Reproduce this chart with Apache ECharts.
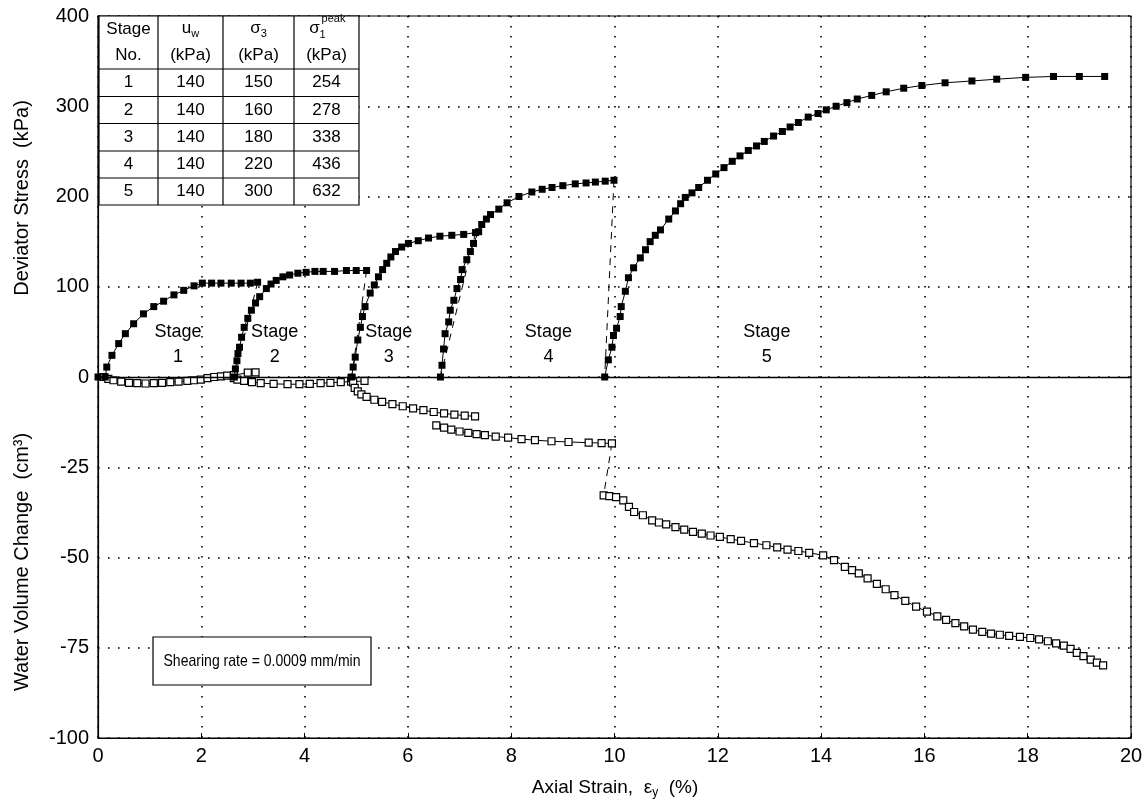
<!DOCTYPE html>
<html><head><meta charset="utf-8">
<script src="https://cdn.jsdelivr.net/npm/echarts@6/dist/echarts.min.js"></script>
<style>html,body{margin:0;padding:0;background:#fff}#c{width:1143px;height:808px}</style>
</head><body><div id="c"></div>
<script>
// ---------------- data ----------------
const xTicks = [0, 2, 4, 6, 8, 10, 12, 14, 16, 18, 20];
const stressTicks = [0, 100, 200, 300, 400];
const volumeTicks = [-25, -50, -75, -100];

// Deviator stress (kPa) vs axial strain (%)
const devStage1 = [[0,0],[0.14,0],[0.17,11],[0.27,24],[0.40,37],[0.53,48],[0.69,59],[0.88,70],[1.08,78],[1.27,84],[1.47,91],[1.66,96],[1.86,101],[2.02,104],[2.2,104],[2.38,104],[2.58,104],[2.77,104],[2.95,104],[3.09,105]];
const devStage2 = [[2.64,0],[2.66,9],[2.69,18],[2.71,26],[2.74,33],[2.78,44],[2.83,55],[2.90,65],[2.97,74],[3.05,82],[3.13,89],[3.26,98],[3.35,103],[3.45,107],[3.58,111],[3.71,113],[3.87,115],[4.03,116],[4.2,117],[4.36,117],[4.58,117],[4.81,118],[5.0,118],[5.2,118]];
const devStage3 = [[4.91,0],[4.94,11],[4.98,22],[5.03,41],[5.08,55],[5.12,67],[5.17,78],[5.27,93],[5.35,102],[5.43,111],[5.51,119],[5.59,126],[5.67,133],[5.76,139],[5.88,144],[6.01,148],[6.2,151],[6.40,154],[6.62,156],[6.85,157],[7.08,158],[7.31,160]];
const devStage4 = [[6.63,0],[6.66,13],[6.69,31],[6.72,48],[6.79,61],[6.82,74],[6.89,85],[6.95,98],[7.02,108],[7.05,119],[7.14,130],[7.21,139],[7.27,148],[7.37,161],[7.43,169],[7.52,175],[7.60,180],[7.76,186],[7.92,193],[8.15,200],[8.40,205],[8.6,208],[8.79,210],[9.0,212],[9.24,214],[9.45,215],[9.63,216],[9.82,217],[9.99,218]];
const devStage5 = [[9.81,0],[9.88,19],[9.95,33],[9.98,46],[10.04,54],[10.11,67],[10.13,78],[10.21,95],[10.27,110],[10.37,121],[10.50,132],[10.60,141],[10.69,150],[10.79,157],[10.89,163],[11.05,175],[11.18,184],[11.28,192],[11.37,199],[11.50,204],[11.63,210],[11.80,218],[11.96,225],[12.12,232],[12.28,239],[12.43,245],[12.59,251],[12.75,256],[12.90,261],[13.08,267],[13.25,272],[13.40,277],[13.56,282],[13.75,288],[13.94,292],[14.10,296],[14.29,300],[14.50,304],[14.70,308],[14.98,312],[15.26,316],[15.6,320],[15.95,323],[16.4,326],[16.92,328],[17.4,330],[17.96,332],[18.5,333],[19.0,333],[19.49,333]];

// Water volume change (cm3) vs axial strain (%)
const watStage1 = [[0.11,0],[0.2,-0.5],[0.30,-0.9],[0.45,-1.3],[0.6,-1.6],[0.76,-1.7],[0.92,-1.8],[1.08,-1.7],[1.24,-1.6],[1.40,-1.4],[1.56,-1.3],[1.73,-1.1],[1.86,-0.9],[1.99,-0.7],[2.12,-0.3],[2.25,0],[2.38,0.2],[2.50,0.4],[2.63,0.5],[2.9,1.2],[3.05,1.3]];
const watStage2 = [[2.63,-0.3],[2.7,-0.7],[2.83,-1.1],[2.98,-1.4],[3.15,-1.7],[3.4,-1.9],[3.67,-2.0],[3.9,-2.0],[4.1,-1.9],[4.31,-1.7],[4.5,-1.6],[4.70,-1.4],[4.9,-1.3],[5.16,-1.1]];
const watStage3 = [[4.91,-0.3],[4.94,-1.5],[4.97,-3.0],[5.03,-4.0],[5.10,-4.8],[5.2,-5.5],[5.35,-6.3],[5.5,-6.9],[5.7,-7.5],[5.9,-8.1],[6.1,-8.7],[6.3,-9.2],[6.5,-9.7],[6.7,-10.1],[6.9,-10.4],[7.1,-10.7],[7.3,-10.9]];
const watStage4 = [[6.55,-13.4],[6.7,-14.0],[6.84,-14.6],[7.0,-15.1],[7.17,-15.5],[7.33,-15.8],[7.49,-16.1],[7.7,-16.5],[7.94,-16.8],[8.2,-17.2],[8.46,-17.5],[8.78,-17.8],[9.11,-18.0],[9.5,-18.2],[9.75,-18.3],[9.95,-18.4]];
const watStage5 = [[9.79,-32.8],[9.9,-33.0],[10.03,-33.3],[10.17,-34.2],[10.28,-36.0],[10.38,-37.4],[10.55,-38.3],[10.73,-39.7],[10.86,-40.3],[11.0,-40.8],[11.18,-41.6],[11.35,-42.3],[11.52,-42.9],[11.69,-43.4],[11.86,-43.9],[12.04,-44.3],[12.25,-44.9],[12.45,-45.4],[12.7,-46.0],[12.94,-46.6],[13.15,-47.2],[13.35,-47.8],[13.56,-48.2],[13.77,-48.7],[14.04,-49.4],[14.25,-50.7],[14.46,-52.6],[14.6,-53.5],[14.73,-54.4],[14.9,-55.8],[15.08,-57.3],[15.25,-58.8],[15.42,-60.4],[15.63,-62.0],[15.84,-63.6],[16.05,-65.0],[16.25,-66.3],[16.42,-67.3],[16.6,-68.2],[16.77,-69.1],[16.94,-70.0],[17.12,-70.6],[17.29,-71.1],[17.46,-71.4],[17.64,-71.7],[17.85,-72.0],[18.05,-72.3],[18.22,-72.7],[18.39,-73.2],[18.55,-73.8],[18.70,-74.4],[18.83,-75.3],[18.95,-76.4],[19.08,-77.3],[19.22,-78.3],[19.34,-79.1],[19.46,-79.9]];

// Table
const tableStageNo = ['1', '2', '3', '4', '5'];
const tableUw = ['140', '140', '140', '140', '140'];
const tableSigma3 = ['150', '160', '180', '220', '300'];
const tableSigma1Peak = ['254', '278', '338', '436', '632'];

const stageWord = 'Stage';
const stageNumbers = ['1', '2', '3', '4', '5'];
const noteText = 'Shearing rate = 0.0009 mm/min';

// ---------------- layout / style ----------------
const FONT = '"Liberation Sans", Arial, Helvetica, sans-serif';
const stageLabelAnchor = [[1.55, 36], [3.42, 36], [5.63, 36], [8.72, 36], [12.95, 36]];
const tableCols = [99, 158, 223, 294, 359];
const tableRows = [16, 69, 96.5, 123.5, 151, 178, 205];

const cv = document.createElement('canvas').getContext('2d');
function tw(t, size) { cv.font = size + 'px ' + FONT; return cv.measureText(t).width; }

function txt(t, x, y, size, align, extra) {
  return Object.assign({
    type: 'text', x: x, y: y, z: 100,
    style: { text: t, fill: '#000', font: size + 'px ' + FONT,
      textAlign: align || 'center', textVerticalAlign: 'middle', align: align || 'center', verticalAlign: 'middle' }
  }, extra || {});
}
function partsGroup(parts, cx, cy, rotation, stretch) {
  let W = 0;
  parts.forEach(p => { p.w = tw(p.t, p.size); W += p.w; });
  let x = -W / 2;
  const children = parts.map(p => { const el = txt(p.t, x, p.dy || 0, p.size, 'left'); x += p.w; return el; });
  return { type: 'group', x: cx, y: cy, rotation: rotation || 0, scaleX: stretch || 1, z: 100, children: children };
}

const graphics = [];
const tX0 = tableCols[0], tX1 = tableCols[tableCols.length - 1];
const tY0 = tableRows[0], tY1 = tableRows[tableRows.length - 1];
graphics.push({ type: 'rect', z: 99, shape: { x: tX0, y: tY0, width: tX1 - tX0, height: tY1 - tY0 }, style: { fill: '#fff', stroke: '#000', lineWidth: 1.2 } });
tableCols.slice(1, -1).forEach(cx => graphics.push({ type: 'line', z: 100, shape: { x1: cx, y1: tY0, x2: cx, y2: tY1 }, style: { stroke: '#000', lineWidth: 1.2 } }));
tableRows.slice(1, -1).forEach(ry => graphics.push({ type: 'line', z: 100, shape: { x1: tX0, y1: ry, x2: tX1, y2: ry }, style: { stroke: '#000', lineWidth: 1.2 } }));
const colC = [];
for (let i = 0; i < 4; i++) colC.push((tableCols[i] + tableCols[i + 1]) / 2);
const h1 = 29, h2 = 55, TS = 17;
graphics.push(txt('Stage', colC[0], h1, TS));
graphics.push(txt('No.', colC[0], h2, TS));
graphics.push(partsGroup([{ t: 'u', size: TS }, { t: 'w', size: 11, dy: 6 }], colC[1], h1 - 1));
graphics.push(txt('(kPa)', colC[1], h2, TS));
graphics.push(partsGroup([{ t: 'σ', size: TS }, { t: '3', size: 11, dy: 6 }], colC[2], h1 - 1));
graphics.push(txt('(kPa)', colC[2], h2, TS));
graphics.push(txt('σ', colC[3] - 12, h1 - 1, TS));
graphics.push(txt('peak', colC[3] + 7, h1 - 10, 11));
graphics.push(txt('1', colC[3] - 4, h1 + 6, 11));
graphics.push(txt('(kPa)', colC[3], h2, TS));
const cols = [tableStageNo, tableUw, tableSigma3, tableSigma1Peak];
for (let r = 0; r < 5; r++) {
  const cy = (tableRows[r + 1] + tableRows[r + 2]) / 2;
  cols.forEach((arr, c) => graphics.push(txt(arr[r], colC[c], cy, TS)));
}
// note box
graphics.push({ type: 'rect', z: 99, shape: { x: 153, y: 637, width: 218, height: 48 }, style: { fill: '#fff', stroke: '#000', lineWidth: 1.2 } });
graphics.push(txt(noteText, 262, 661, 17, 'center', { scaleX: 197 / tw(noteText, 17) }));
// axis titles
graphics.push(partsGroup([{ t: 'Deviator Stress  (kPa)', size: 20 }], 22, 198, Math.PI / 2));
graphics.push(partsGroup([{ t: 'Water Volume Change  (cm³)', size: 20 }], 22, 562, Math.PI / 2));
graphics.push(partsGroup([{ t: 'Axial Strain,  ε', size: 19 }, { t: 'y', size: 12, dy: 5 }, { t: '  (%)', size: 19 }], 615, 788));

// ---------------- series ----------------
function devSeries(d) {
  return { type: 'line', data: d, xAxisIndex: 0, yAxisIndex: 0, symbol: 'rect', symbolSize: 7, showAllSymbol: true,
    itemStyle: { color: '#000' }, lineStyle: { color: '#000', width: 1 }, z: 4, silent: true };
}
function watSeries(d) {
  return { type: 'line', data: d, xAxisIndex: 0, yAxisIndex: 1, symbol: 'rect', symbolSize: 7, showAllSymbol: true,
    itemStyle: { color: '#fff', borderColor: '#000', borderWidth: 1.2 }, lineStyle: { color: '#000', width: 1 }, z: 3, silent: true };
}
function link(a, b, yi) {
  return { type: 'line', data: [a[a.length - 1], b[0]], yAxisIndex: yi, symbol: 'none',
    lineStyle: { color: '#000', width: 1, type: [7, 6] }, z: 2, silent: true };
}
const devAll = [devStage1, devStage2, devStage3, devStage4, devStage5];
const watAll = [watStage1, watStage2, watStage3, watStage4, watStage5];
const series = [];
devAll.forEach(d => series.push(devSeries(d)));
watAll.forEach(d => series.push(watSeries(d)));
for (let i = 0; i < 4; i++) series.push(link(devAll[i], devAll[i + 1], 0));
series.push(link(watStage4, watStage5, 1));
series[0].markLine = { silent: true, symbol: 'none', label: { show: false }, animation: false,
  lineStyle: { color: '#000', type: 'solid', width: 1.3 }, data: [{ yAxis: 0 }] };

const axisFont = { color: '#000', fontFamily: FONT, fontSize: 20 };
const option = {
  animation: false,
  backgroundColor: '#fff',
  grid: { left: 98, right: 12, top: 16, bottom: 70, show: true, borderColor: '#000', borderWidth: 1.2, containLabel: false, outerBoundsMode: 'none' },
  xAxis: { type: 'value', min: 0, max: 20, interval: 2,
    axisLine: { show: true, onZero: false, lineStyle: { color: '#000', width: 1.2 } },
    axisTick: { show: true, inside: true, length: 5, lineStyle: { color: '#000' } },
    axisLabel: Object.assign({ margin: 8, formatter: v => xTicks.includes(v) ? String(v) : '' }, axisFont),
    splitLine: { show: true, lineStyle: { color: '#000', width: 1.6, type: [1.6, 8.4] } } },
  yAxis: [
    { type: 'value', min: -400, max: 400, interval: 100, position: 'left',
      axisLine: { show: true, onZero: false, lineStyle: { color: '#000', width: 1.2 } },
      axisTick: { show: false },
      axisLabel: Object.assign({ margin: 9, formatter: v => stressTicks.includes(v) ? String(v) : '' }, axisFont),
      splitLine: { show: true, lineStyle: { color: '#000', width: 1.6, type: [1.6, 8.4] } } },
    { type: 'value', min: -100, max: 100, interval: 25, position: 'left', offset: 0,
      axisLine: { show: false }, axisTick: { show: false }, splitLine: { show: false },
      axisLabel: Object.assign({ margin: 9, formatter: v => volumeTicks.includes(v) ? String(v) : '' }, axisFont) }
  ],
  series: series,
  graphic: { elements: graphics }
};
const chart = echarts.init(document.getElementById('c'), null, { renderer: 'canvas' });
chart.setOption(option);
// stage labels anchored to data coordinates
stageNumbers.forEach((n, i) => {
  const p = chart.convertToPixel({ xAxisIndex: 0, yAxisIndex: 0 }, stageLabelAnchor[i]);
  graphics.push(txt(stageWord, p[0], p[1] - 12, 18));
  graphics.push(txt(n, p[0], p[1] + 13, 18));
});
chart.setOption({ graphic: { elements: graphics } }, { replaceMerge: ['graphic'] });
</script></body></html>
